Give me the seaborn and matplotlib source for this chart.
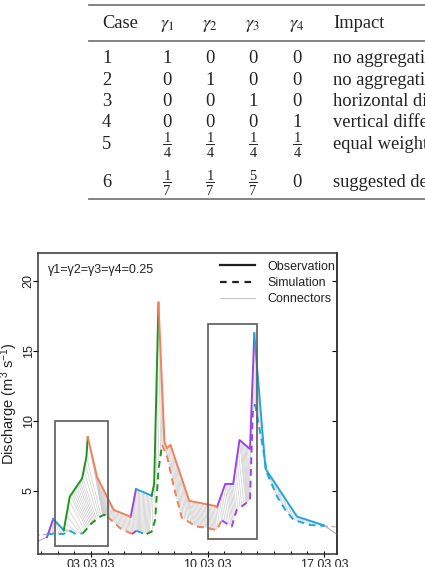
import numpy as np
import pandas as pd
import matplotlib
matplotlib.use("Agg")
import matplotlib.pyplot as plt
import seaborn as sns
from matplotlib.lines import Line2D
from matplotlib.patches import Rectangle
from matplotlib.collections import LineCollection

# ---------------- table data ----------------
table_header = ["Case", r"$\gamma_1$", r"$\gamma_2$", r"$\gamma_3$", r"$\gamma_4$", "Impact"]
table_case = ["1", "2", "3", "4", "5", "6"]
table_g1 = ["1", "0", "0", "0", "1/4", "1/7"]
table_g2 = ["0", "1", "0", "0", "1/4", "1/7"]
table_g3 = ["0", "0", "1", "0", "1/4", "5/7"]
table_g4 = ["0", "0", "0", "1", "1/4", "0"]
table_impact = ["no aggregation", "no aggregation", "horizontal distance",
                "vertical difference", "equal weights", "suggested default"]

# ---------------- chart data (days relative to 03.03.03) ----------------
obs_day = [-3.35, -2.65, -2.28, -1.64, -1.28, -0.54, -0.28, -0.2, 0.36, 0.96, 1.36,
           2.38, 2.70, 3.64, 3.79, 4.05, 4.41, 4.57, 4.77, 5.90, 7.47, 7.57, 8.06,
           8.54, 8.92, 9.55, 9.81, 10.48, 12.38, 13.99, 14.9]
obs_q = [1.35, 1.70, 3.00, 2.20, 4.60, 5.90, 7.45, 8.85, 6.00, 4.60, 3.65,
         3.16, 5.14, 4.67, 5.50, 18.45, 8.50, 8.05, 8.30, 4.30, 3.93, 3.85, 5.50,
         5.50, 8.64, 8.00, 16.26, 6.60, 3.17, 2.55, 1.80]
obs_seg = ["end", "purple", "blue", "green", "green", "green", "green",
           "orange", "orange", "orange", "orange", "purple", "blue", "green", "green",
           "orange", "orange", "orange", "orange", "orange", "orange",
           "purple", "purple", "purple", "purple", "purple",
           "blue", "blue", "blue", "end"]

sim_day = [-3.35, -2.65, -2.28, -1.66, -1.26, -0.96, -0.50, 0.04, 0.54, 0.78, 0.98,
           1.76, 2.46, 2.73, 3.05, 3.34, 3.64, 3.85, 4.05, 4.27, 4.57, 4.97, 5.45,
           6.35, 6.85, 7.55, 7.85, 8.45, 8.75, 9.25, 9.55, 9.72, 9.85, 10.28, 10.58,
           11.18, 11.68, 12.18, 13.19, 13.99, 14.9]
sim_q = [1.86, 1.90, 1.95, 1.93, 2.16, 1.95, 1.97, 2.70, 3.16, 3.30, 3.16,
         2.33, 1.93, 2.16, 2.00, 1.93, 2.10, 2.93, 6.50, 8.30, 7.45, 5.30, 3.10,
         2.45, 2.40, 2.20, 2.90, 2.45, 3.64, 4.07, 4.36, 10.60, 11.20, 8.40, 6.26,
         4.60, 3.64, 2.93, 2.57, 2.50, 2.43]
sim_seg = ["end", "blue", "blue", "blue", "blue", "blue", "green", "green", "green", "green",
           "orange", "orange", "purple", "blue", "blue", "green", "green", "green", "green",
           "orange", "orange", "orange", "orange", "orange", "orange", "orange",
           "purple", "purple", "purple", "purple", "purple", "purple",
           "blue", "blue", "blue", "blue", "blue", "blue", "blue", "end"]

# warping path anchors: observation day -> matched simulation day
warp_obs = [-2.65, -2.28, -1.64, -1.28, -0.54, -0.2, 0.36, 0.96, 1.36, 2.38, 2.70,
            3.64, 3.79, 4.05, 4.41, 4.77, 5.90, 7.47, 8.06, 8.54, 8.92, 9.55, 9.81,
            10.48, 12.38, 13.99]
warp_sim = [-2.65, -2.28, -0.90, -0.30, 0.30, 0.70, 0.85, 1.10, 1.50, 2.46, 2.73,
            3.50, 3.85, 4.20, 4.50, 4.90, 6.20, 7.60, 8.45, 8.75, 9.30, 9.60, 9.80,
            10.60, 12.20, 13.99]
conn_step = 0.08

box_day0 = [-2.14, 7.03]
box_day1 = [1.00, 9.98]
box_q0 = [1.07, 1.55]
box_q1 = [10.0, 16.95]

x_major = [0, 7, 14]
x_labels = ["03.03.03", "10.03.03", "17.03.03"]
y_major = [5, 10, 15, 20]

palette = {"purple": "#9a45e6", "blue": "#22a6de", "green": "#1f951f", "orange": "#f4805c"}

# ---------------- build long table for seaborn ----------------
def segments(days, qs, segs, series):
    rows = []
    uid = 0
    i = 0
    n = len(segs)
    while i < n:
        j = i
        while j + 1 < n and segs[j + 1] == segs[i]:
            j += 1
        for k in range(i, j + 2):
            rows.append(dict(day=days[k], q=qs[k], kind=segs[i], series=series,
                             unit=f"{series}{uid}"))
        uid += 1
        i = j + 1
    return rows

df = pd.DataFrame(segments(obs_day, obs_q, obs_seg, "obs") +
                  segments(sim_day, sim_q, sim_seg, "sim"))
col = df[df.kind != "end"]
ends = df[df.kind == "end"]

# ---------------- figure ----------------
W, H = 425, 567
fig = plt.figure(figsize=(W / 100, H / 100), dpi=100)
fx = lambda x: x / W
fy = lambda y: 1 - y / H

plt.rcParams["mathtext.fontset"] = "custom"
plt.rcParams["mathtext.rm"] = "Liberation Sans"
plt.rcParams["mathtext.it"] = "Liberation Sans:italic"

# table
serif = "Liberation Serif"
ts = 13.3
tcol = "#222222"
for y in [5, 40.7, 199]:
    fig.add_artist(Line2D([fx(89), fx(440)], [fy(y), fy(y)], color="#7a7a7a",
                          lw=1.3, transform=fig.transFigure))
col_x = [102, 167, 210, 253, 297, 333]
col_ha = ["left", "center", "center", "center", "center", "left"]
for j, h in enumerate(table_header):
    fig.text(fx(col_x[j]), fy(28.3), h, ha=col_ha[j], va="baseline", fontsize=ts,
             family=serif, math_fontfamily="stix", color=tcol)
row_base = [63.3, 85.0, 106.0, 127.3, 149.0, 187.0]
row_frac = [None, None, None, None, 144.0, 181.7]
columns = [table_case, table_g1, table_g2, table_g3, table_g4, table_impact]
for i in range(6):
    for j, column in enumerate(columns):
        cell = column[i]
        if "/" in cell:
            num, den = cell.split("/")
            yl = row_frac[i]
            fig.text(fx(col_x[j]), fy(yl - 1.8), num, ha="center", va="baseline",
                     fontsize=ts * 0.78, family=serif, color=tcol)
            fig.text(fx(col_x[j]), fy(yl + 12.8), den, ha="center", va="baseline",
                     fontsize=ts * 0.78, family=serif, color=tcol)
            fig.add_artist(Line2D([fx(col_x[j] - 4), fx(col_x[j] + 4)], [fy(yl), fy(yl)],
                                  color=tcol, lw=0.7, transform=fig.transFigure))
        else:
            fig.text(fx(col_x[j]), fy(row_base[i]), cell, ha=col_ha[j], va="baseline",
                     fontsize=ts, family=serif, math_fontfamily="stix", color=tcol)

# chart
ax = fig.add_axes([38 / W, 13 / H, 299 / W, 301 / H])

obs_c = np.arange(-2.6, 13.95, conn_step)
obs_at = np.interp(obs_c, obs_day, obs_q)
sim_c = np.interp(obs_c, warp_obs, warp_sim)
sim_at = np.interp(sim_c, sim_day, sim_q)
lc = LineCollection([[(a, b), (c, d)] for a, b, c, d in zip(obs_c, obs_at, sim_c, sim_at)],
                    colors="#cdcdcd", linewidths=0.5, zorder=1)
ax.add_collection(lc)

sns.lineplot(data=ends, x="day", y="q", units="unit", style="series", estimator=None,
             sort=False, color="#b5b5b5", lw=0.9, dashes={"obs": "", "sim": (3.5, 2.5)},
             legend=False, ax=ax, zorder=2)
sns.lineplot(data=col, x="day", y="q", units="unit", hue="kind", style="series",
             estimator=None, sort=False, palette=palette, lw=1.4,
             dashes={"obs": "", "sim": (3.5, 2.5)}, legend=False, ax=ax, zorder=3)

for d0, d1, q0, q1 in zip(box_day0, box_day1, box_q0, box_q1):
    ax.add_patch(Rectangle((d0, q0), d1 - d0, q1 - q0, fill=False, ec="#5a5a5a",
                           lw=1.2, zorder=4))

ax.set_xlim(-3.19, 14.78)
ax.set_ylim(0.5, 22.0)
ax.set_xticks(x_major)
ax.set_xticklabels(x_labels, family="Liberation Sans", fontsize=9, color=tcol)
ax.set_xticks(np.arange(-3, 15, 1), minor=True)
ax.set_yticks(y_major)
ax.set_yticklabels([str(v) for v in y_major], family="Liberation Sans", fontsize=9,
                   rotation=90, va="center", color=tcol)
ax.tick_params(axis="x", which="major", direction="inout", length=5, width=0.8, pad=1)
ax.tick_params(axis="x", which="minor", direction="in", length=2.5, width=0.8)
ax.tick_params(axis="y", which="major", direction="out", length=3.6, width=0.8, pad=-1.2)
ax2 = ax.secondary_yaxis("right")
ax2.set_yticks(y_major)
ax2.tick_params(direction="in", length=3.6, width=0.8, labelright=False)
for s in ax.spines.values():
    s.set_linewidth(1.1)
    s.set_color("#333333")
ax2.spines["right"].set_linewidth(1.1)
ax2.spines["right"].set_color("#333333")

ax.set_xlabel("")
ax.set_ylabel(r"Discharge (m$^3$ s$^{-1}$)", family="Liberation Sans", fontsize=10.5,
              color=tcol)
ax.yaxis.set_label_coords(-0.06, 0.5)

ax.text(0.033, 0.943, "γ1=γ2=γ3=γ4=0.25", transform=ax.transAxes, ha="left",
        va="center", family="Liberation Sans", fontsize=9, color=tcol)

handles = [Line2D([], [], color=tcol, lw=1.6),
           Line2D([], [], color=tcol, lw=1.6, ls=(0, (3, 2.5))),
           Line2D([], [], color="#c8c8c8", lw=0.8)]
leg = ax.legend(handles, ["Observation", "Simulation", "Connectors"], loc="upper right",
                bbox_to_anchor=(0.995, 0.975), frameon=False, handlelength=2.8,
                handletextpad=1.0, labelspacing=0.35, borderpad=0, borderaxespad=0,
                prop={"family": "Liberation Sans", "size": 9})
for t in leg.get_texts():
    t.set_color(tcol)

fig.savefig("out.png", dpi=100)
